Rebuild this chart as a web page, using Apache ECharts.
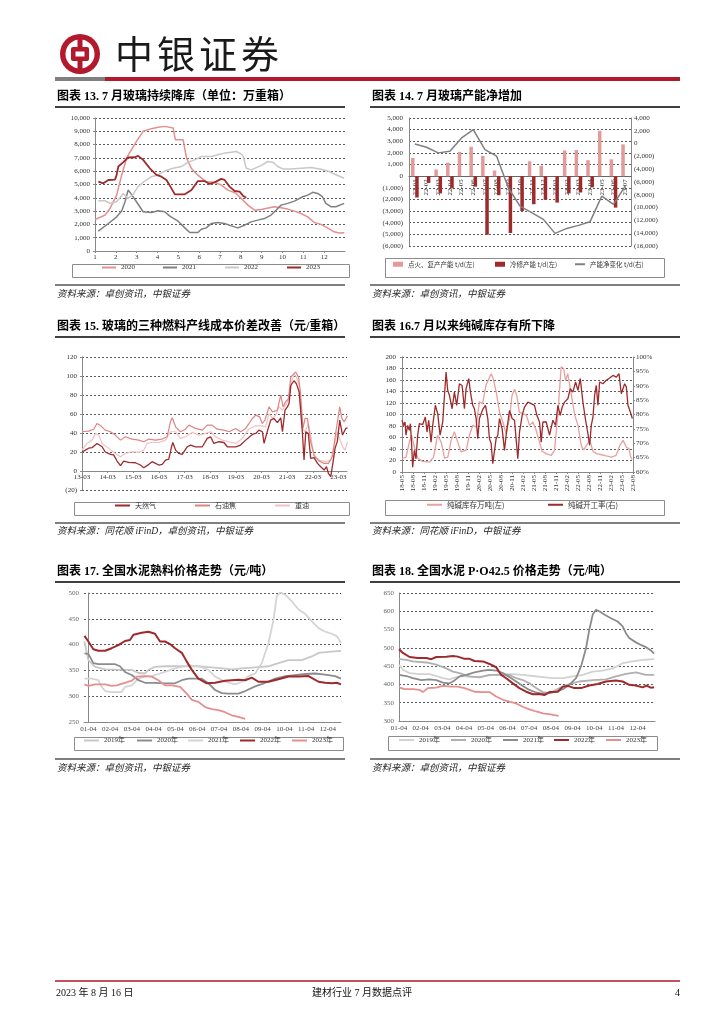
<!DOCTYPE html>
<html><head><meta charset="utf-8">
<script src="https://cdn.jsdelivr.net/npm/echarts@6/dist/echarts.min.js"></script>
<style>
html,body{margin:0;padding:0;background:#fff;}
#page{position:relative;width:724px;height:1024px;overflow:hidden;}
.c{position:absolute;}
</style></head><body>
<div id="page">
<div id="bg" class="c" style="left:0;top:0;width:724px;height:1024px"></div>
<div id="c13" class="c" style="left:55px;top:110px;width:295px;height:172px"></div>
<div id="c14" class="c" style="left:360px;top:110px;width:320px;height:172px"></div>
<div id="c15" class="c" style="left:55px;top:340px;width:295px;height:180px"></div>
<div id="c16" class="c" style="left:360px;top:340px;width:320px;height:180px"></div>
<div id="c17" class="c" style="left:55px;top:585px;width:295px;height:170px"></div>
<div id="c18" class="c" style="left:360px;top:585px;width:320px;height:170px"></div>
</div>
<script>
// ---------------- DATA ----------------
// Chart 13: glass inventory (万重箱), x = month (1..13)
const glass2020 = [[1.00,2370],[1.48,2700],[1.72,3200],[2.04,4200],[2.28,5700],[2.52,7000],[2.99,8240],[3.31,9000],[3.71,9200],[4.03,9300],[4.35,9370],[4.75,9250],[4.86,8360],[5.23,8360],[5.39,7000],[5.63,6200],[5.94,5700],[6.34,5200],[6.74,5160],[7.06,4960],[7.38,4580],[7.78,4330],[8.02,3950],[8.34,3450],[8.66,3070],[8.97,3120],[9.61,3330],[9.93,3250],[10.25,3150],[10.57,3000],[10.89,2820],[11.21,2570],[11.53,2140],[11.85,2000],[12.16,1740],[12.48,1440],[12.72,1360],[12.96,1380]];
const glass2021 = [[1.16,1490],[1.64,2070],[2.04,2570],[2.28,3000],[2.44,3700],[2.59,4580],[2.75,4260],[2.99,3700],[3.31,2950],[3.71,2900],[4.03,3020],[4.35,2950],[4.59,2620],[4.99,2240],[5.31,1740],[5.55,1390],[5.94,1390],[6.10,1640],[6.34,1740],[6.58,2070],[6.90,2140],[7.22,2070],[7.54,1890],[7.86,1740],[8.18,1940],[8.50,2190],[8.81,2320],[9.13,2440],[9.45,2700],[9.69,3070],[9.93,3450],[10.25,3580],[10.57,3750],[10.97,4080],[11.21,4200],[11.45,4410],[11.69,4330],[11.92,4080],[12.08,3580],[12.32,3330],[12.56,3330],[12.96,3580]];
const glass2022 = [[1.16,3780],[1.48,3780],[1.72,3580],[2.04,3700],[2.36,4330],[2.59,3950],[2.83,4260],[3.07,4840],[3.39,5260],[3.71,5590],[4.03,5720],[4.35,6020],[4.75,6220],[5.15,6350],[5.47,6680],[5.78,6850],[6.10,7100],[6.58,7100],[6.90,7230],[7.22,7360],[7.54,7430],[7.78,7480],[7.94,7360],[8.10,7180],[8.26,6220],[8.50,6100],[8.74,6270],[8.97,6420],[9.29,6730],[9.53,6680],[9.77,6350],[10.01,6170],[10.41,6170],[10.89,6220],[11.37,6270],[11.85,6150],[12.16,6020],[12.48,5790],[12.96,5470]];
const glass2023 = [[1.16,5210],[1.40,5090],[1.64,5340],[1.96,5370],[2.04,5720],[2.12,6350],[2.36,6680],[2.59,7030],[2.91,7050],[3.07,7150],[3.31,6850],[3.63,6220],[3.95,5720],[4.19,5590],[4.43,5340],[4.67,4710],[4.83,4260],[5.07,4260],[5.31,4260],[5.63,4580],[5.94,5260],[6.26,5260],[6.50,5040],[6.74,5160],[7.06,5420],[7.22,5340],[7.46,4840],[7.70,4510],[7.94,4460],[8.10,4160],[8.26,4010]];
const monthTicks13 = ['1','2','3','4','5','6','7','8','9','10','11','12'];

// Chart 14: capacity (t/d)
const cats14 = ['22-01','22-02','22-03','22-04','22-05','22-06','22-07','22-08','22-09','22-10','22-11','22-12','23-01','23-02','23-03','23-04','23-05','23-06','23-07'];
const ignite14 = [1570,0,580,1160,2090,2530,1740,490,0,0,1280,900,0,2210,2240,1370,3900,1450,2730];
const cold14 = [-1830,-580,-1480,-1050,0,-900,-5030,-1630,-4880,-2990,-2410,-2030,-2270,-1480,-1400,-960,0,-2700,0];
const net14 = [-50,-570,-1450,-1200,880,2180,-940,-1970,-6900,-9770,-10800,-11840,-14030,-13250,-12780,-12200,-8200,-9500,-6650];

// Chart 15: fuel cost spread (元/重箱), x = months since 2013-03
const gas15 = [[0,20],[1.6,22],[3.1,24],[4.7,24.5],[7.0,29],[7.8,30],[9.4,25.5],[10.9,20],[13.3,17.5],[14.8,17],[16.4,10.5],[18.0,5.6],[19.5,10.5],[21.9,9],[25.0,8.7],[27.3,6.3],[28.9,3.5],[29.7,4.5],[31.3,7],[32.8,9.8],[34.4,8],[35.9,6.3],[37.5,7],[39.1,11.5],[40.6,12.6],[41.9,25.5],[42.5,30],[43.8,22],[45.3,18.5],[46.9,17.5],[49.2,25.5],[50.8,27.3],[53.1,25.5],[56.3,25.5],[58.6,34.3],[60.2,36],[61.7,29],[64.1,30.8],[66.4,30],[68.0,25.5],[71.9,25.5],[74.2,27.3],[76.6,32.5],[79.7,38.5],[81.3,39.5],[82.8,43],[84.4,41.3],[85.2,29],[86.3,38.5],[88.3,53.5],[89.8,55.3],[91.4,51],[93.0,56],[93.8,41.3],[95.0,64],[96.1,67.5],[96.9,71],[97.7,90],[99.2,95],[100.3,92],[101.6,83.3],[103.1,41.3],[103.9,11.5],[104.7,41.3],[105.9,39.5],[107.0,13.3],[108.6,14],[110.2,8],[111.7,4.5],[113.3,1],[114.4,4.5],[115.3,-2.5],[116.4,-6],[117.5,9.8],[118.4,23.8],[119.5,31.5],[120.6,53.5],[121.9,37.8],[122.8,36],[123.4,44.8],[124.2,45.5]];
const coke15 = [[0,41.3],[3.1,42],[5.5,44],[7.0,50],[8.6,48],[10.9,43],[13.3,41.3],[15.6,37.8],[18.0,32.5],[20.3,36],[23.4,33.6],[26.6,32.5],[28.9,30.8],[31.3,33.6],[34.4,32.5],[37.5,33.6],[39.8,36],[41.4,51.8],[42.2,56],[43.8,46.5],[46.1,41.3],[48.4,44],[50.0,48.3],[53.1,44.8],[56.3,43],[58.6,48.3],[60.9,48.3],[63.3,44],[66.4,43],[68.8,41.3],[71.9,44.8],[74.2,41.3],[76.6,44.8],[79.7,55.3],[81.3,58.8],[83.1,57],[84.4,50],[85.6,53.5],[87.5,67.5],[89.1,62.3],[91.4,64],[93.0,79.8],[94.1,67.5],[95.3,72.8],[96.6,76.3],[97.7,99],[98.8,101.5],[100.0,104.3],[101.3,99],[102.3,81.5],[103.4,44.8],[104.4,55.3],[105.5,55.3],[107.0,30.8],[108.6,16.8],[110.9,10.5],[113.3,8],[115.3,8],[117.2,15],[118.8,41.3],[120.6,67.5],[121.6,55.3],[122.7,51.8],[124.2,58]];
const oil15 = [[0,22],[2.3,29],[4.7,32.5],[6.3,39.5],[7.8,37.8],[9.4,29],[12.5,23.8],[15.6,18.5],[18.0,15],[20.3,18.5],[23.4,20.3],[26.6,19.6],[28.9,22],[30.5,29],[32.8,30],[35.9,30],[39.1,32.5],[41.4,41.3],[43.8,41.3],[46.1,34.3],[48.4,36],[51.6,40.6],[54.7,37.8],[57.8,39.5],[60.2,41.3],[62.5,36],[65.6,32.5],[68.8,30.8],[71.9,29],[75.0,34.3],[78.1,44],[81.3,47.6],[84.4,47.6],[85.9,46.5],[87.5,60.5],[89.1,55.3],[90.6,58.8],[92.2,67.5],[93.8,64],[95.3,69.3],[96.9,76.3],[98.1,93.8],[99.2,102.5],[100.3,99],[101.6,90.3],[103.1,44.8],[104.4,41.3],[105.9,50],[107.0,37.8],[108.6,15],[110.9,11.5],[114.1,9.8],[116.4,11.5],[118.0,27.3],[119.5,41.3],[120.6,34.3],[121.9,25.5],[123.1,22],[124.2,30.8]];

// Chart 16: soda ash inventory (万吨) & operating rate (%), x = months since 2018-05
const sodaInv16 = [[0,23],[1.1,26],[2.0,52],[2.6,64],[3.4,43],[4.3,24],[5.6,18.5],[7.5,17],[8.6,26],[9.7,64],[10.7,52],[11.6,24],[12.5,26],[13.4,55],[14.3,70],[15.2,52],[16.1,35],[17.5,38],[18.4,64],[19.3,81],[20.2,78],[21.1,122],[22.0,119],[22.9,151],[24.3,171],[24.9,162],[25.7,139],[26.6,104],[27.5,87],[28.4,67],[29.3,93],[30.0,133],[30.7,144],[31.3,133],[32.0,104],[33.0,101],[33.9,99],[34.8,81],[35.7,87],[36.6,72],[37.5,52],[38.2,36],[39.3,32],[40.7,29],[41.6,38],[42.5,99],[43.4,183],[44.1,180],[44.6,159],[45.2,171],[45.9,145],[46.6,119],[47.1,99],[48.0,81],[48.9,46],[49.5,38],[50.3,46],[51.2,55],[52.1,36],[53.0,32],[54.4,30],[55.7,28],[57.1,26],[58.4,29],[59.4,46],[60.3,55],[61.2,43],[61.9,40.6],[62.4,26],[62.8,22]];
const sodaRate16 = [[0,78],[0.46,76.2],[0.82,77.4],[1.09,72.8],[1.55,76.2],[2.0,74.5],[2.28,76.8],[2.64,69.3],[2.91,61.7],[3.37,67.5],[3.82,64.6],[4.28,72.8],[4.73,76.8],[5.64,76.5],[6.37,79.1],[6.83,73.9],[7.28,78],[7.92,70.4],[8.38,76.2],[9.10,83.2],[9.74,80.3],[10.38,72.8],[11.11,77.4],[11.56,86.1],[12.02,94.8],[12.47,88.4],[12.93,86.7],[13.66,82],[14.29,87.8],[14.93,83.2],[15.66,90.7],[16.39,90.1],[17.02,82],[17.48,89],[18.21,92.5],[18.66,87.8],[19.30,83.2],[19.75,82],[20.21,78.6],[20.67,71.6],[21.12,78.6],[22.03,81.8],[22.76,83.2],[23.40,78.6],[23.85,71.6],[24.31,69.9],[24.76,62.9],[25.22,62.3],[25.67,71.6],[26.13,72.8],[26.58,78.6],[27.31,75.1],[27.95,67.5],[28.40,72.8],[29.31,81.4],[30.04,78.6],[30.68,78],[31.14,77.4],[31.59,64.6],[32.05,73.9],[32.77,79.7],[33.41,82.6],[34.32,84.3],[35.23,83.8],[36.14,83.2],[36.78,79.7],[37.51,77.4],[37.96,70.4],[38.42,77.4],[39.33,77.4],[40.24,72.8],[41.15,78],[41.88,76.2],[42.52,83.2],[43.15,79.7],[43.70,82.6],[44.34,84.3],[45.25,85.5],[45.88,89],[46.61,87.8],[47.34,91.3],[47.98,88.4],[48.62,92.5],[49.34,84.3],[50.07,78],[50.71,73.3],[51.17,69.3],[51.62,76.2],[52.08,79.1],[52.53,86.7],[52.98,90.1],[53.44,83.2],[53.90,91.3],[54.81,90.7],[55.72,91.9],[56.63,92.7],[57.54,93.6],[58.45,93],[59.18,94.2],[59.81,87.2],[60.72,90.7],[61.18,89.6],[61.63,83.2],[62.27,80.9],[62.82,78.6]];

// Chart 17: clinker price (元/吨), x = months since 01-04
const clinker2019 = [[-0.18,406],[0,370],[0.31,357],[0.77,352],[1.53,351],[1.99,351],[2.30,345],[2.60,344],[2.76,351],[3.06,357],[3.52,358],[3.98,358],[4.59,358],[5.05,358],[5.67,356],[6.13,354],[6.58,352],[7.04,354],[7.66,356],[8.27,358],[8.73,364],[9.19,370],[9.80,370],[10.26,377],[10.57,384],[11.03,386],[11.60,388]];
const clinker2020 = [[-0.18,383],[0,382],[0.23,364],[0.46,362],[1.23,362],[1.45,358],[1.68,347],[1.99,341],[2.30,331],[2.60,326],[3.06,326],[3.52,325],[3.98,325],[4.29,331],[4.59,334],[5.21,334],[5.51,325],[5.82,312],[6.13,306],[6.43,305],[6.89,305],[7.20,310],[7.66,319],[8.12,326],[8.58,334],[9.04,339],[9.49,341],[9.95,343],[10.41,344],[10.87,342],[11.33,339],[11.60,334]];
const clinker2021 = [[-0.18,334],[0.15,334],[0.46,331],[0.61,318],[0.77,310],[1.07,308],[1.53,308],[1.68,318],[1.99,321],[2.30,334],[2.60,338],[2.91,339],[3.22,343],[3.52,347],[3.98,354],[4.29,357],[4.59,360],[5.05,358],[5.51,351],[5.82,338],[6.28,328],[6.74,323],[7.04,328],[7.35,339],[7.66,344],[7.96,364],[8.27,403],[8.50,448],[8.65,494],[8.81,501],[9.04,497],[9.34,484],[9.65,468],[9.95,460],[10.26,445],[10.57,432],[10.87,425],[11.18,421],[11.41,416],[11.60,403]];
const clinker2022 = [[-0.18,417],[0,406],[0.23,391],[0.46,388],[0.77,388],[1.07,393],[1.38,399],[1.68,407],[1.91,409],[2.07,419],[2.45,423],[2.76,425],[3.06,421],[3.29,406],[3.52,406],[3.75,401],[3.98,393],[4.29,384],[4.52,367],[4.75,351],[5.05,334],[5.44,325],[5.82,326],[6.28,330],[6.89,332],[7.20,331],[7.50,336],[7.81,328],[8.27,328],[8.73,333],[9.19,338],[9.65,338],[10.11,339],[10.57,328],[10.87,326],[11.18,325],[11.41,326],[11.60,323]];
const clinker2023 = [[-0.18,323],[0,320],[0.31,323],[0.77,323],[1.07,320],[1.30,321],[1.68,326],[1.99,330],[2.22,338],[2.60,339],[2.91,338],[3.22,331],[3.52,321],[3.83,321],[4.21,318],[4.52,305],[4.75,293],[5.05,289],[5.36,279],[5.67,275],[5.97,273],[6.28,269],[6.58,263],[6.89,260],[7.20,256]];

// Chart 18: P.O42.5 price (元/吨), x = months since 01-04
const po2019 = [[0,454],[0.18,440],[0.49,431],[0.95,428],[1.41,428],[1.72,423],[2.02,417],[2.33,414],[2.64,420],[2.94,423],[3.40,420],[3.87,422],[4.33,426],[4.79,428],[5.25,428],[5.71,426],[6.17,423],[6.63,420],[7.09,417],[7.55,417],[8.01,422],[8.47,426],[8.93,435],[9.39,438],[9.85,444],[10.31,458],[10.77,463],[11.23,467],[11.76,469]];
const po2020 = [[0,469],[0.34,467],[0.64,463],[1.26,460],[1.72,454],[2.18,444],[2.48,435],[2.79,431],[3.25,422],[3.71,419],[4.17,426],[5.09,426],[5.40,417],[5.71,412],[6.01,403],[6.32,390],[6.63,379],[6.93,376],[7.24,385],[7.55,394],[7.85,401],[8.31,408],[8.93,412],[9.54,414],[10.0,422],[10.46,429],[10.92,433],[11.38,426],[11.76,426]];
const po2021 = [[0,426],[0.34,423],[0.64,417],[1.03,412],[1.41,414],[1.72,412],[2.02,405],[2.33,403],[2.56,411],[2.79,422],[3.10,426],[3.48,433],[3.87,438],[4.17,440],[4.48,438],[4.79,431],[5.09,420],[5.40,408],[5.71,396],[6.01,385],[6.32,378],[6.63,374],[6.93,376],[7.24,380],[7.55,387],[7.85,399],[8.16,417],[8.39,449],[8.62,499],[8.77,549],[8.93,591],[9.08,604],[9.23,600],[9.46,591],[9.77,581],[10.08,572],[10.31,559],[10.46,540],[10.61,527],[10.92,515],[11.15,508],[11.38,502],[11.61,493],[11.76,484]];
const po2022 = [[0,496],[0.18,486],[0.49,475],[0.87,472],[1.26,472],[1.49,469],[1.72,475],[2.18,476],[2.48,478],[2.71,476],[3.02,470],[3.25,470],[3.48,464],[3.87,463],[4.17,456],[4.48,447],[4.71,426],[4.94,417],[5.25,403],[5.55,390],[5.86,380],[6.17,373],[6.47,374],[6.70,371],[6.93,379],[7.32,380],[7.55,394],[7.78,396],[8.08,390],[8.39,390],[8.77,397],[9.16,401],[9.54,408],[10.0,411],[10.31,408],[10.61,399],[10.92,397],[11.23,392],[11.41,397],[11.61,391],[11.76,392]];
const po2023 = [[0,392],[0.26,387],[0.64,387],[0.95,385],[1.10,379],[1.33,390],[1.72,391],[2.02,396],[2.41,394],[2.71,394],[3.02,390],[3.25,385],[3.48,380],[3.87,379],[4.17,379],[4.48,367],[4.79,358],[5.09,353],[5.40,348],[5.71,339],[6.01,332],[6.32,326],[6.63,321],[6.93,319],[7.16,316],[7.36,314]];

// ---------------- STYLE ----------------
const RED = '#b3192c';
const DARKRED = '#9e2a2b';
const PINK = '#e58f8f';
const SERIF = '"Liberation Serif","Times New Roman",serif';
const MIX = '"Liberation Serif","Noto Sans CJK SC",serif';
const CJK = '"Noto Sans CJK SC","Liberation Serif",sans-serif';

function fmtNum(v){ const a = Math.abs(v).toLocaleString('en-US'); return v < 0 ? '(' + a + ')' : a; }
const lbl = {fontFamily: SERIF, fontSize: 7, color: '#333', hideOverlap: false};
const axLine = {show: true, lineStyle: {color: '#888', width: 1}};
const split = {show: true, lineStyle: {color: '#333', type: [2, 2], width: 0.8}};
const GRID = {containLabel: false, outerBoundsMode: 'none'};

function legs(items, top, o){
  return items.map(it => ({
    left: it.x, top: top, orient: 'horizontal', padding: 0, itemGap: 0,
    itemWidth: it.w || o.w, itemHeight: it.h || o.h, selectedMode: false,
    data: [{name: it.name, icon: it.icon || 'rect'}],
    textStyle: {fontFamily: o.font, fontSize: o.size, color: '#333'}
  }));
}
function box(x, y, w, h){
  return {type: 'rect', left: x, top: y, shape: {width: w, height: h}, style: {fill: 'none', stroke: '#8c8c8c', lineWidth: 1}, silent: true};
}
function lineSeries(name, data, color, width, yIdx){
  return {name: name, type: 'line', data: data, symbol: 'none', showSymbol: false, yAxisIndex: yIdx || 0,
    lineStyle: {color: color, width: width}, itemStyle: {color: color}, emphasis: {disabled: true}};
}

// ---------------- BACKGROUND (header, titles, sources, footer) ----------------
const bg = echarts.init(document.getElementById('bg'), null, {renderer: 'canvas'});
const g = [];
g.push({type: 'circle', shape: {cx: 80, cy: 54, r: 20}, style: {fill: RED}});
g.push({type: 'circle', shape: {cx: 80, cy: 54, r: 14.5}, style: {fill: '#fff'}});
g.push({type: 'rect', shape: {x: 77.5, y: 36, width: 5, height: 36}, style: {fill: RED}});
g.push({type: 'rect', shape: {x: 71, y: 47, width: 18, height: 14, r: 2}, style: {fill: RED}});
g.push({type: 'rect', shape: {x: 75.5, y: 51.5, width: 9, height: 5}, style: {fill: '#fff'}});
['中','银','证','券'].forEach((ch, i) => {
  g.push({type: 'text', x: 115 + i * 42, y: 54, style: {text: ch, font: '38px ' + CJK, fill: '#1a1a1a', textAlign: 'left', align: 'left', textVerticalAlign: 'middle', verticalAlign: 'middle'}});
});
g.push({type: 'rect', shape: {x: 55, y: 77, width: 50, height: 4}, style: {fill: '#7f7f7f'}});
g.push({type: 'rect', shape: {x: 105, y: 77, width: 575, height: 4}, style: {fill: RED}});

function txt(t, x, y, font, color, align){
  return {type: 'text', x: x, y: y, style: {text: t, font: font, fill: color || '#000', textAlign: align || 'left', align: align || 'left', textVerticalAlign: 'middle', verticalAlign: 'middle'}};
}
function hline(x1, x2, y, w, c){
  return {type: 'line', shape: {x1: x1, y1: y, x2: x2, y2: y}, style: {stroke: c || '#000', lineWidth: w || 1}};
}
const titles = [
  ['图表 13. 7 月玻璃持续降库（单位：万重箱）', 57, 97],
  ['图表 14. 7 月玻璃产能净增加', 372, 97],
  ['图表 15. 玻璃的三种燃料产线成本价差改善（元/重箱）', 57, 327],
  ['图表 16.7 月以来纯碱库存有所下降', 372, 327],
  ['图表 17. 全国水泥熟料价格走势（元/吨）', 57, 572],
  ['图表 18. 全国水泥 P·O42.5 价格走势（元/吨）', 372, 572]
];
titles.forEach(t => g.push(txt(t[0], t[1], t[2], 'bold 12px ' + MIX, '#000')));
[107, 337, 582].forEach(y => { g.push(hline(55, 345, y, 1.3)); g.push(hline(370, 680, y, 1.3)); });
[285, 523, 759].forEach(y => { g.push(hline(55, 345, y, 1.1)); g.push(hline(370, 680, y, 1.1)); });
const sources = [
  ['资料来源：卓创资讯，中银证券', 57, 294],
  ['资料来源：卓创资讯，中银证券', 372, 294],
  ['资料来源：同花顺 iFinD，卓创资讯，中银证券', 57, 531],
  ['资料来源：同花顺 iFinD，中银证券', 372, 531],
  ['资料来源：卓创资讯，中银证券', 57, 768],
  ['资料来源：卓创资讯，中银证券', 372, 768]
];
sources.forEach(s => g.push(txt(s[0], s[1], s[2], 'italic 9.5px ' + MIX, '#222')));
g.push(hline(55, 680, 981, 1.5, RED));
g.push(txt('2023 年 8 月 16 日', 56, 993, '10px ' + MIX, '#111'));
g.push(txt('建材行业 7 月数据点评', 362, 993, '10px ' + MIX, '#111', 'center'));
g.push(txt('4', 680, 993, '10px ' + MIX, '#111', 'right'));
bg.setOption({animation: false, graphic: {elements: g}});

// ---------------- CHART 13 ----------------
echarts.init(document.getElementById('c13')).setOption({
  animation: false,
  grid: Object.assign({left: 40, right: 5, top: 8, bottom: 31}, GRID),
  xAxis: {type: 'value', min: 1, max: 13, interval: 1, axisLine: axLine,
    axisTick: {show: true, length: 2, lineStyle: {color: '#888'}},
    axisLabel: Object.assign({}, lbl, {margin: 3, showMaxLabel: false, formatter: v => monthTicks13[Math.round(v) - 1] || ''}),
    splitLine: {show: false}},
  yAxis: {type: 'value', min: 0, max: 10000, interval: 1000, axisLine: axLine,
    axisTick: {show: true, length: 2, lineStyle: {color: '#888'}},
    axisLabel: Object.assign({}, lbl, {margin: 5, formatter: fmtNum}), splitLine: split},
  legend: legs([{name: '2020', x: 47}, {name: '2021', x: 108}, {name: '2022', x: 170}, {name: '2023', x: 232}], 154, {w: 14, h: 2, font: SERIF, size: 7}),
  graphic: {elements: [box(15, 152, 277, 13)]},
  series: [
    lineSeries('2020', glass2020, PINK, 1.5),
    lineSeries('2021', glass2021, '#808080', 1.5),
    lineSeries('2022', glass2022, '#c8c8c8', 1.5),
    lineSeries('2023', glass2023, DARKRED, 1.8)
  ]
});

// ---------------- CHART 14 ----------------
// x axis placed on the left axis' zero line (plot height 128 px, zero 5000/11000 from top)
echarts.init(document.getElementById('c14')).setOption({
  animation: false,
  grid: Object.assign({left: 49, right: 49, top: 8, bottom: 36}, GRID),
  xAxis: {type: 'category', data: cats14, offset: -69.8, axisLine: {show: true, onZero: false, lineStyle: {color: '#666'}},
    axisTick: {show: false},
    axisLabel: Object.assign({}, lbl, {rotate: 90, margin: 3, interval: 0})},
  yAxis: [
    {type: 'value', min: -6000, max: 5000, interval: 1000, axisLine: axLine, axisTick: {show: false},
      axisLabel: Object.assign({}, lbl, {margin: 6, formatter: fmtNum}), splitLine: split},
    {type: 'value', min: -16000, max: 4000, interval: 2000, position: 'right', axisLine: axLine, axisTick: {show: false},
      axisLabel: Object.assign({}, lbl, {margin: 3, formatter: fmtNum}), splitLine: {show: false}}
  ],
  legend: legs([
    {name: '点火、复产产能 t/d(左)', x: 33, h: 5},
    {name: '冷修产能 t/d(左)', x: 135, h: 5},
    {name: '产能净变化 t/d(右)', x: 215, h: 2}
  ], 151, {w: 10, h: 5, font: CJK, size: 6.5}),
  graphic: {elements: [box(23, 146, 279, 19)]},
  series: [
    {name: '点火、复产产能 t/d(左)', type: 'bar', data: ignite14, barWidth: 3.5, barGap: '20%', itemStyle: {color: '#e39a9a'}, emphasis: {disabled: true}},
    {name: '冷修产能 t/d(左)', type: 'bar', data: cold14, barWidth: 3.5, barGap: '20%', itemStyle: {color: DARKRED}, emphasis: {disabled: true}},
    lineSeries('产能净变化 t/d(右)', net14, '#808080', 1.5, 1)
  ]
});

// ---------------- CHART 15 ----------------
function ymLabel(baseYear, baseMonthIdx){
  return v => {
    const idx = baseMonthIdx + Math.round(v);
    const yy = baseYear + Math.floor(idx / 12);
    const mm = idx % 12 + 1;
    return yy + '-' + (mm < 10 ? '0' + mm : '' + mm);
  };
}
// x axis placed on zero (plot height 133 px for 140 units; zero is 20 units above bottom)
echarts.init(document.getElementById('c15')).setOption({
  animation: false,
  grid: Object.assign({left: 27, right: 3, top: 17, bottom: 30}, GRID),
  xAxis: {type: 'value', min: 0, max: 124, interval: 12, offset: -19, axisLine: {show: true, onZero: false, lineStyle: {color: '#888'}},
    axisTick: {show: true, length: 2, lineStyle: {color: '#888'}},
    axisLabel: Object.assign({}, lbl, {margin: 3, showMaxLabel: false, formatter: ymLabel(13, 2)}), splitLine: {show: false}},
  yAxis: {type: 'value', min: -20, max: 120, interval: 20, axisLine: axLine, axisTick: {show: true, length: 2, lineStyle: {color: '#888'}},
    axisLabel: Object.assign({}, lbl, {margin: 5, formatter: v => v < 0 ? '(' + (-v) + ')' : '' + v}), splitLine: split},
  legend: legs([{name: '天然气', x: 60}, {name: '石油焦', x: 140}, {name: '重油', x: 220}], 162, {w: 15, h: 2, font: CJK, size: 7}),
  graphic: {elements: [box(17, 160, 275, 13)]},
  series: [
    lineSeries('重油', oil15, '#f2c2c2', 1.2),
    lineSeries('石油焦', coke15, '#dc8585', 1.2),
    lineSeries('天然气', gas15, DARKRED, 1.3)
  ]
});

// ---------------- CHART 16 ----------------
echarts.init(document.getElementById('c16')).setOption({
  animation: false,
  grid: Object.assign({left: 42, right: 47, top: 17, bottom: 48}, GRID),
  xAxis: {type: 'value', min: 0, max: 63, interval: 3, axisLine: {show: true, onZero: false, lineStyle: {color: '#888'}},
    axisTick: {show: true, length: 2, lineStyle: {color: '#888'}},
    axisLabel: Object.assign({}, lbl, {rotate: 90, margin: 3, formatter: ymLabel(18, 4)}), splitLine: {show: false}},
  yAxis: [
    {type: 'value', min: 0, max: 200, interval: 20, axisLine: axLine, axisTick: {show: true, length: 2, lineStyle: {color: '#888'}},
      axisLabel: Object.assign({}, lbl, {margin: 6}), splitLine: split},
    {type: 'value', min: 60, max: 100, interval: 5, position: 'right', axisLine: axLine, axisTick: {show: true, length: 2, lineStyle: {color: '#888'}},
      axisLabel: Object.assign({}, lbl, {margin: 3, formatter: v => v + '%'}), splitLine: {show: false}}
  ],
  legend: legs([{name: '纯碱库存万吨(左)', x: 67}, {name: '纯碱开工率(右)', x: 188}], 161, {w: 15, h: 2, font: CJK, size: 7.5}),
  graphic: {elements: [box(23, 158, 279, 15)]},
  series: [
    lineSeries('纯碱库存万吨(左)', sodaInv16, '#e8a0a0', 1.3, 0),
    lineSeries('纯碱开工率(右)', sodaRate16, DARKRED, 1.3, 1)
  ]
});

// ---------------- CHART 17 ----------------
function mdLabel(v){
  if (Math.abs(v - Math.round(v)) > 1e-6 || v < -1e-6) return '';
  const m = Math.round(v) + 1;
  return (m < 10 ? '0' + m : '' + m) + '-04';
}
const yearLegend = ['2019年','2020年','2021年','2022年','2023年'];
echarts.init(document.getElementById('c17')).setOption({
  animation: false,
  grid: Object.assign({left: 29, right: 9, top: 8, bottom: 33}, GRID),
  xAxis: {type: 'value', min: -0.2, max: 11.6, interval: 0.2, axisLine: axLine, axisTick: {show: false},
    axisLabel: Object.assign({}, lbl, {color: '#444', margin: 4, showMinLabel: false, showMaxLabel: false, formatter: mdLabel}), splitLine: {show: false}},
  yAxis: {type: 'value', min: 250, max: 500, interval: 50, axisLine: axLine, axisTick: {show: false},
    axisLabel: Object.assign({}, lbl, {color: '#666', margin: 5}), splitLine: split},
  legend: legs([{name: yearLegend[0], x: 29}, {name: yearLegend[1], x: 82}, {name: yearLegend[2], x: 133}, {name: yearLegend[3], x: 185}, {name: yearLegend[4], x: 237}], 152, {w: 15, h: 2, font: MIX, size: 7}),
  graphic: {elements: [box(17, 150, 269, 13)]},
  series: [
    lineSeries(yearLegend[0], clinker2019, '#c8c8c8', 1.8),
    lineSeries(yearLegend[2], clinker2021, '#d4d4d4', 1.8),
    lineSeries(yearLegend[1], clinker2020, '#8c8c8c', 1.8),
    lineSeries(yearLegend[4], clinker2023, PINK, 1.8),
    lineSeries(yearLegend[3], clinker2022, DARKRED, 2)
  ]
});

// ---------------- CHART 18 ----------------
echarts.init(document.getElementById('c18')).setOption({
  animation: false,
  grid: Object.assign({left: 39, right: 25, top: 8, bottom: 34}, GRID),
  xAxis: {type: 'value', min: 0, max: 11.8, interval: 0.2, axisLine: axLine, axisTick: {show: false},
    axisLabel: Object.assign({}, lbl, {color: '#444', margin: 4, showMaxLabel: false, formatter: mdLabel}), splitLine: {show: false}},
  yAxis: {type: 'value', min: 300, max: 650, interval: 50, axisLine: axLine, axisTick: {show: false},
    axisLabel: Object.assign({}, lbl, {color: '#666', margin: 5}), splitLine: split},
  legend: legs([{name: yearLegend[0], x: 39}, {name: yearLegend[1], x: 91}, {name: yearLegend[2], x: 143}, {name: yearLegend[3], x: 194}, {name: yearLegend[4], x: 246}], 151.5, {w: 15, h: 2, font: MIX, size: 7}),
  graphic: {elements: [box(26, 149, 269, 14)]},
  series: [
    lineSeries(yearLegend[0], po2019, '#d2d2d2', 1.8),
    lineSeries(yearLegend[1], po2020, '#b0b0b0', 1.8),
    lineSeries(yearLegend[2], po2021, '#8c8c8c', 1.8),
    lineSeries(yearLegend[4], po2023, PINK, 1.8),
    lineSeries(yearLegend[3], po2022, DARKRED, 2)
  ]
});
</script>
</body></html>
